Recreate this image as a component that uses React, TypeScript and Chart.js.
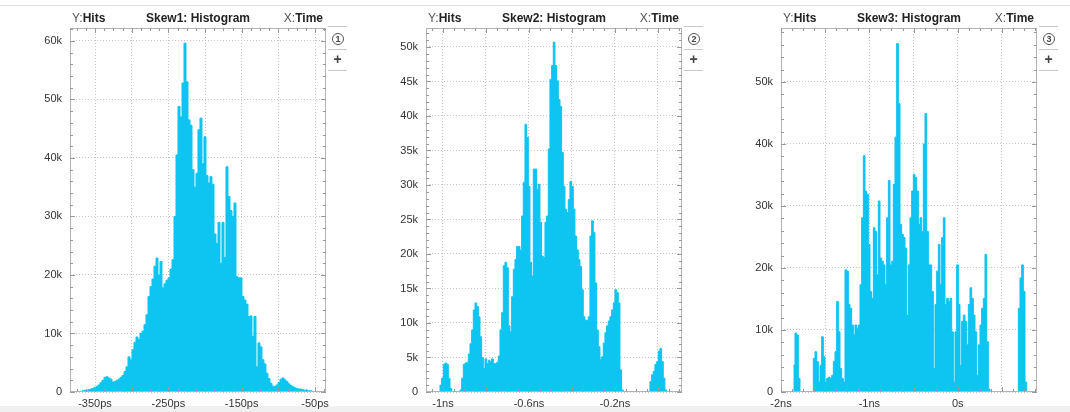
import React, { useEffect, useRef } from "react";
import { Chart, registerables } from "chart.js";

Chart.register(...registerables);

// ---------------- data ----------------
// Skew1: histogram bins in ps, hits in thousands (k)
const skew1BinStart = -384.1;
const skew1BinWidth = 2.727;
const skew1Hits = [
  0, 0, 0, 0, 0.1, 0.1, 0.2, 0.3, 0.3, 0.4, 0.5, 0.6, 0.8, 0.9, 1.2, 1.6,
  2.0, 2.5, 2.6, 2.4, 2.2, 1.7, 1.8, 2.0, 2.2, 2.5, 2.8, 3.5, 4.3, 6.0, 5.5, 7.2,
  8.5, 9.4, 9.0, 10.0, 10.4, 11.5, 13.2, 16.3, 18.0, 19.3, 21.5, 22.9, 20.0, 22.3, 17.8, 18.5,
  19.1, 19.5, 21.0, 22.6, 30.0, 40.5, 48.8, 47.0, 52.8, 59.6, 53.0, 46.5, 45.6, 38.0, 35.0, 37.4,
  44.8, 46.8, 39.0, 43.6, 37.0, 35.7, 36.8, 35.5, 27.0, 25.4, 29.0, 22.0, 29.0, 23.0, 38.5, 33.4,
  31.0, 30.0, 32.3, 19.7, 19.5, 19.5, 16.3, 15.7, 15.0, 12.9, 13.0, 9.5, 12.9, 4.3, 8.4, 7.7,
  5.5, 4.8, 3.2, 2.3, 1.5, 1.0, 0.9, 1.2, 1.6, 2.2, 2.4, 2.1, 1.8, 1.4, 1.1, 0.9,
  0.7, 0.6, 0.5, 0.5, 0.4, 0.3, 0.3, 0.2, 0.2, 0.1, 0.1, 0.1, 0, 0, 0, 0,
];
const skew1XRange = [-384.1, -35.0];
const skew1YMax = 62.2;
const skew1XTicks = [-350, -300, -250, -200, -150, -100, -50];
const skew1XLabels = ["-350ps", "", "-250ps", "", "-150ps", "", "-50ps"];
const skew1YTicks = [0, 10, 20, 30, 40, 50, 60];
const skew1YLabels = ["0", "10k", "20k", "30k", "40k", "50k", "60k"];

// Skew2: bins in ns, hits in k
const skew2BinStart = -1.0217;
const skew2BinWidth = 0.007752;
const skew2Hits = [
  0, 1.0, 2.0, 4.0, 4.2, 4.0, 2.0, 0.5, 0, 0, 0, 0, 0, 0.3, 2.0, 4.0,
  4.2, 4.3, 5.5, 7.0, 9.0, 11.9, 12.9, 12.4, 10.9, 8.0, 5.0, 3.4, 4.8, 4.1, 4.6, 4.4,
  4.8, 4.1, 4.1, 4.3, 5.2, 9.0, 11.5, 18.3, 18.8, 18.0, 9.6, 8.7, 13.8, 17.8, 19.2, 21.1,
  21.1, 20.5, 25.5, 30.4, 38.8, 36.9, 29.8, 18.8, 16.8, 32.3, 32.3, 29.4, 30.1, 24.6, 19.7, 19.5,
  24.6, 25.5, 35.2, 45.3, 47.3, 50.7, 47.3, 45.1, 42.4, 41.4, 34.7, 29.8, 26.5, 26.0, 27.9, 30.5,
  29.8, 26.5, 22.6, 20.6, 19.2, 18.2, 14.8, 10.9, 10.4, 10.4, 10.9, 22.6, 24.8, 23.1, 15.8, 9.0,
  6.6, 4.7, 5.1, 7.1, 8.6, 9.6, 10.3, 10.9, 11.9, 12.9, 14.8, 14.4, 12.9, 3.2, 0.3, 0,
  0, 0, 0, 0, 0, 0, 0, 0, 0, 0, 0, 0, 0, 0, 0, 1.5,
  2.5, 3.0, 4.0, 4.4, 5.9, 6.3, 4.4, 2.0, 0.3, 0,
];
const skew2XRange = [-1.079, 0.112];
const skew2YMax = 52.75;
const skew2XTicks = [-1, -0.8, -0.6, -0.4, -0.2, 0];
const skew2XLabels = ["-1ns", "", "-0.6ns", "", "-0.2ns", ""];
const skew2YTicks = [0, 5, 10, 15, 20, 25, 30, 35, 40, 45, 50];
const skew2YLabels = ["0", "5k", "10k", "15k", "20k", "25k", "30k", "35k", "40k", "45k", "50k"];

// Skew3: bins in ns, hits in k
const skew3BinStart = -1.8605;
const skew3BinWidth = 0.018854;
const skew3Hits = [
  4.3, 9.5, 9.2, 2.2, 0, 0, 0, 0, 0, 0, 0, 0, 5.4, 6.5, 4.9, 1.6,
  4.3, 8.9, 5.7, 1.6, 2.2, 2.4, 2.2, 2.7, 4.9, 6.5, 14.6, 9.7, 3.8, 2.2, 1.6, 19.7,
  19.5, 14.1, 13.5, 10.8, 9.2, 10.8, 10.3, 10.8, 17.3, 28.1, 38.1, 32.4, 31.9, 23.8, 16.2, 15.1,
  26.5, 25.9, 18.9, 30.8, 21.6, 21.1, 20.5, 17.3, 28.1, 34.1, 20.5, 21.1, 33.5, 41.1, 56.2, 46.5,
  27.0, 25.4, 24.9, 23.2, 12.4, 20.5, 28.1, 32.4, 35.1, 34.6, 32.4, 27.0, 28.1, 25.9, 40.0, 44.9,
  25.9, 20.5, 20.5, 16.2, 3.8, 14.1, 19.5, 23.8, 17.3, 24.9, 28.1, 14.1, 15.1, 14.6, 15.1, 9.7,
  1.6, 9.7, 20.5, 14.1, 4.3, 11.4, 12.4, 11.4, 7.6, 14.1, 16.8, 15.1, 12.4, 9.7, 2.7, 7.6,
  10.8, 13.5, 15.1, 22.2, 8.1, 0.5, 0, 0, 0, 0, 0, 0, 0, 0, 0, 0,
  0, 0, 0, 0, 0, 0, 0, 13.5, 18.4, 20.5, 16.2, 1.6, 0,
];
const skew3XRange = [-2.0, 0.896];
const skew3YMax = 58.7;
const skew3XTicks = [-2, -1.5, -1, -0.5, 0, 0.5];
const skew3XLabels = ["-2ns", "", "-1ns", "", "0s", ""];
const skew3YTicks = [0, 10, 20, 30, 40, 50];
const skew3YLabels = ["0", "10k", "20k", "30k", "40k", "50k"];

// ---------------- layout / style ----------------
const PLOT_TOP = 28;
const PLOT_BOTTOM = 392;
const PLOT_W = 256;
const AXIS_W = 70;
const RIGHT_PAD = 20;
const FILL = "#0ec4f0";
const FRAME = "#b4b4b4";
const GRID = "#c4c4c4";
const FONT = "'Liberation Sans', Arial, sans-serif";

type PanelDef = {
  id: number;
  title: string;
  plotLeft: number;
  binStart: number;
  binWidth: number;
  hits: number[];
  xRange: number[];
  yMax: number;
  xTicks: number[];
  xLabels: string[];
  yTicks: number[];
  yLabels: string[];
  xMinor: number;
  yMinor: number;
};

const panels: PanelDef[] = [
  {
    id: 1,
    title: "Skew1: Histogram",
    plotLeft: 70,
    binStart: skew1BinStart,
    binWidth: skew1BinWidth,
    hits: skew1Hits,
    xRange: skew1XRange,
    yMax: skew1YMax,
    xTicks: skew1XTicks,
    xLabels: skew1XLabels,
    yTicks: skew1YTicks,
    yLabels: skew1YLabels,
    xMinor: 12.5,
    yMinor: 2,
  },
  {
    id: 2,
    title: "Skew2: Histogram",
    plotLeft: 426,
    binStart: skew2BinStart,
    binWidth: skew2BinWidth,
    hits: skew2Hits,
    xRange: skew2XRange,
    yMax: skew2YMax,
    xTicks: skew2XTicks,
    xLabels: skew2XLabels,
    yTicks: skew2YTicks,
    yLabels: skew2YLabels,
    xMinor: 0.05,
    yMinor: 1,
  },
  {
    id: 3,
    title: "Skew3: Histogram",
    plotLeft: 781,
    binStart: skew3BinStart,
    binWidth: skew3BinWidth,
    hits: skew3Hits,
    xRange: skew3XRange,
    yMax: skew3YMax,
    xTicks: skew3XTicks,
    xLabels: skew3XLabels,
    yTicks: skew3YTicks,
    yLabels: skew3YLabels,
    xMinor: 0.125,
    yMinor: 2,
  },
];

const framePlugin = {
  id: "frame",
  afterDraw(chart: any, _args: any, opts: any) {
    const { ctx, chartArea: a, scales } = chart;
    ctx.save();
    ctx.strokeStyle = FRAME;
    ctx.lineWidth = 1;
    ctx.strokeRect(a.left + 0.5, a.top + 0.5, a.right - a.left - 1, a.bottom - a.top - 1);
    ctx.strokeStyle = "#9a9a9a";
    ctx.beginPath();
    const xs = scales.x;
    const ys = scales.y;
    const yMajor: number[] = opts.yTicks;
    const xMajor: number[] = opts.xTicks;
    const isMajor = (list: number[], v: number) => list.some((t) => Math.abs(t - v) < 1e-6);
    for (let i = 0; i * opts.yMinor <= ys.max + 1e-9; i++) {
      const v = i * opts.yMinor;
      const py = Math.round(ys.getPixelForValue(v)) + 0.5;
      const len = isMajor(yMajor, v) ? 5 : 3;
      ctx.moveTo(a.left, py);
      ctx.lineTo(a.left + len, py);
      ctx.moveTo(a.right, py);
      ctx.lineTo(a.right - len, py);
    }
    const firstI = Math.ceil(xs.min / opts.xMinor - 1e-9);
    for (let i = firstI; i * opts.xMinor <= xs.max + 1e-9; i++) {
      const v = i * opts.xMinor;
      const px = Math.round(xs.getPixelForValue(v)) + 0.5;
      const len = isMajor(xMajor, v) ? 5 : 3;
      ctx.moveTo(px, a.top);
      ctx.lineTo(px, a.top + len);
      ctx.moveTo(px, a.bottom);
      ctx.lineTo(px, a.bottom - len);
    }
    ctx.stroke();
    ctx.restore();
  },
};

function HistPanel({ p }: { p: PanelDef }) {
  const ref = useRef<HTMLCanvasElement | null>(null);
  useEffect(() => {
    if (!ref.current) return;
    const points = p.hits.map((h, i) => ({ x: p.binStart + i * p.binWidth, y: h }));
    points.push({ x: p.binStart + p.hits.length * p.binWidth, y: 0 });
    const chart = new Chart(ref.current, {
      type: "line",
      data: {
        datasets: [
          {
            data: points,
            stepped: "before",
            fill: "origin",
            backgroundColor: FILL,
            borderColor: FILL,
            borderWidth: 1,
            pointRadius: 0,
            tension: 0,
          } as any,
        ],
      },
      options: {
        animation: false,
        responsive: false,
        devicePixelRatio: 1,
        layout: { padding: { top: PLOT_TOP, left: 0, right: RIGHT_PAD, bottom: 0 } },
        plugins: {
          legend: { display: false },
          tooltip: { enabled: false },
          frame: { xMinor: p.xMinor, yMinor: p.yMinor, xTicks: p.xTicks, yTicks: p.yTicks },
        } as any,
        scales: {
          x: {
            type: "linear",
            min: p.xRange[0],
            max: p.xRange[1],
            afterBuildTicks: (s: any) => {
              s.ticks = p.xTicks.map((v) => ({ value: v }));
            },
            afterFit: (s: any) => {
              s.height = 412 - PLOT_BOTTOM;
            },
            grid: { color: GRID, lineWidth: 1, drawTicks: false },
            border: { display: false, dash: [1, 2] },
            ticks: {
              autoSkip: false,
              maxRotation: 0,
              minRotation: 0,
              padding: 5,
              color: "#333",
              font: { family: FONT, size: 11 },
              callback: (_v: any, i: number) => p.xLabels[i] ?? "",
            },
          },
          y: {
            type: "linear",
            min: 0,
            max: p.yMax,
            afterBuildTicks: (s: any) => {
              s.ticks = p.yTicks.map((v) => ({ value: v }));
            },
            afterFit: (s: any) => {
              s.width = AXIS_W;
            },
            grid: { color: GRID, lineWidth: 1, drawTicks: false },
            border: { display: false, dash: [1, 2] },
            ticks: {
              autoSkip: false,
              padding: 8,
              color: "#333",
              font: { family: FONT, size: 11 },
              callback: (_v: any, i: number) => p.yLabels[i] ?? "",
            },
          },
        },
      } as any,
      plugins: [framePlugin as any],
    });
    return () => chart.destroy();
  }, [p]);

  const canvasLeft = p.plotLeft - AXIS_W;
  const canvasW = AXIS_W + PLOT_W + RIGHT_PAD;
  const plotRight = p.plotLeft + PLOT_W;
  return (
    <>
      <canvas
        ref={ref}
        width={canvasW}
        height={412}
        style={{ position: "absolute", left: canvasLeft, top: 0, width: canvasW, height: 412 }}
      />
      <div
        style={{
          position: "absolute",
          left: p.plotLeft,
          top: 11,
          width: PLOT_W,
          height: 15,
          fontFamily: FONT,
          fontSize: 12,
          lineHeight: "15px",
          color: "#222",
        }}
      >
        <span style={{ position: "absolute", left: 2 }}>
          <span style={{ color: "#555" }}>Y:</span>
          <b>Hits</b>
        </span>
        <span style={{ position: "absolute", left: 0, width: PLOT_W, textAlign: "center", fontWeight: "bold" }}>
          {p.title}
        </span>
        <span style={{ position: "absolute", right: 3 }}>
          <span style={{ color: "#555" }}>X:</span>
          <b>Time</b>
        </span>
      </div>
      {/* side buttons */}
      <div style={{ position: "absolute", left: plotRight + 2, top: 26, width: 19, height: 1, background: "#c8c8c8" }} />
      <div
        style={{
          position: "absolute",
          left: plotRight + 6,
          top: 33,
          width: 10,
          height: 10,
          border: "1.5px solid #555",
          borderRadius: "50%",
          fontFamily: FONT,
          fontSize: 9,
          fontWeight: "bold",
          lineHeight: "10px",
          textAlign: "center",
          color: "#444",
        }}
      >
        {p.id}
      </div>
      <div style={{ position: "absolute", left: plotRight + 2, top: 49, width: 19, height: 1, background: "#c8c8c8" }} />
      <div
        style={{
          position: "absolute",
          left: plotRight + 2,
          top: 51,
          width: 19,
          height: 16,
          fontFamily: FONT,
          fontSize: 14,
          fontWeight: "bold",
          lineHeight: "16px",
          textAlign: "center",
          color: "#444",
        }}
      >
        +
      </div>
      <div style={{ position: "absolute", left: plotRight + 2, top: 70, width: 19, height: 1, background: "#c8c8c8" }} />
    </>
  );
}

export default function App() {
  return (
    <div
      style={{
        position: "fixed",
        left: 0,
        top: 0,
        width: 1070,
        height: 412,
        background: "#fff",
        overflow: "hidden",
      }}
    >
      <div style={{ position: "absolute", left: 0, top: 5, width: 1070, height: 1, background: "#e2e2e2" }} />
      <div style={{ position: "absolute", left: 0, top: 406, width: 1070, height: 6, background: "#f0f0f0" }} />
      {panels.map((p) => (
        <HistPanel key={p.id} p={p} />
      ))}
    </div>
  );
}
